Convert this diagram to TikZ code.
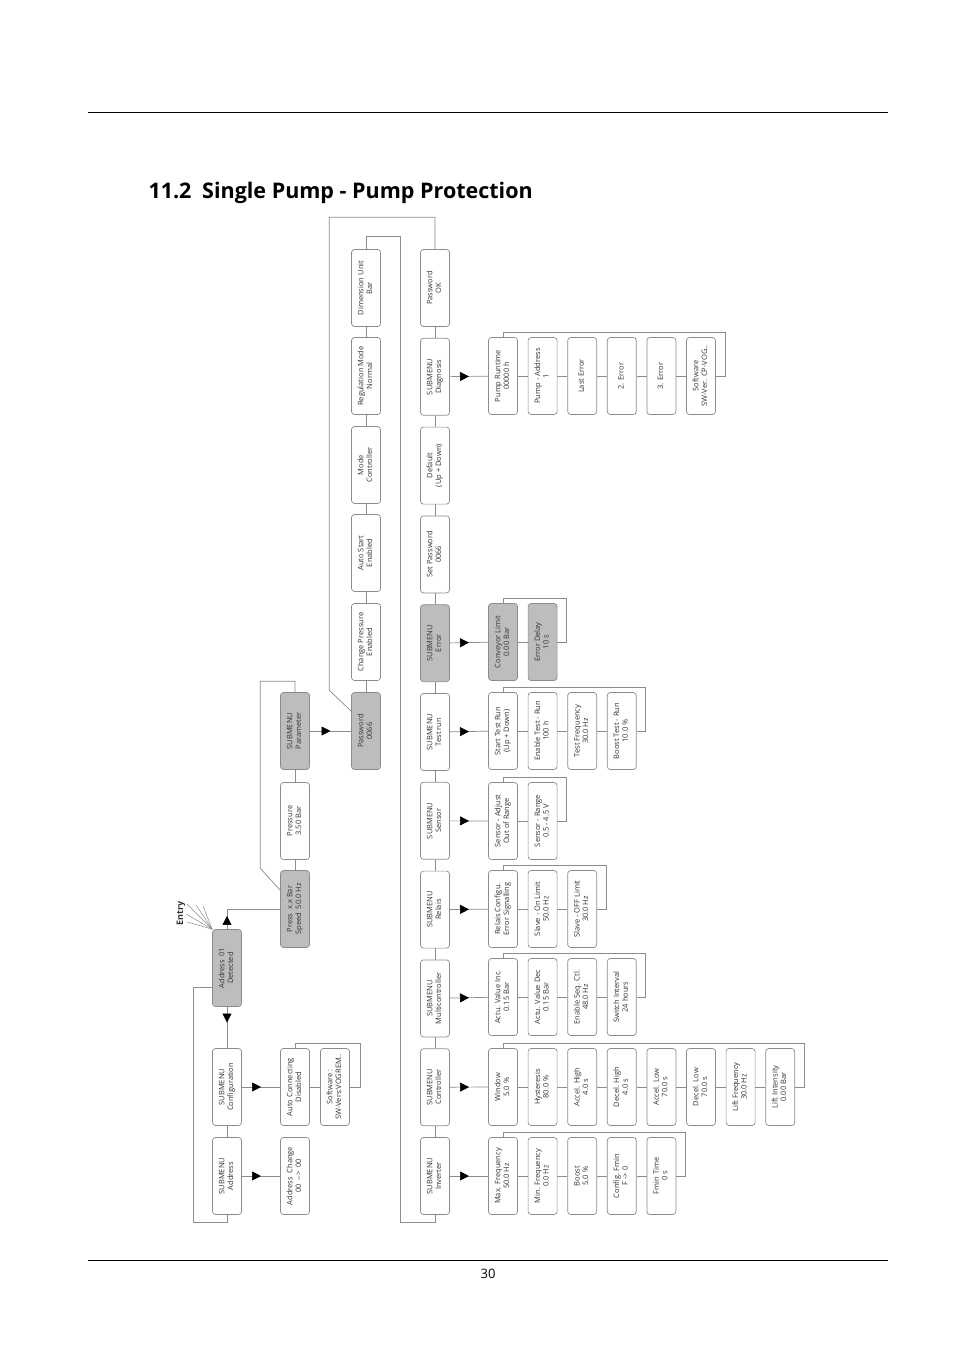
\documentclass[tikz,border=0pt]{standalone}
\usepackage{fontspec}
\setmainfont{Open Sans}
\usetikzlibrary{arrows.meta,decorations.markings}
\definecolor{edge}{HTML}{8C8C8C}
\definecolor{shade}{HTML}{BDBDBD}
\definecolor{ink}{HTML}{333333}
\newcommand\vt[1]{\rotatebox{90}{\begin{tabular}{@{}c@{}}#1\end{tabular}}}
\tikzset{
  menu/.style={draw=edge, fill=white, rounded corners=3pt, line width=0.7pt, minimum width=29pt, minimum height=77pt, inner sep=0pt, text=ink, font=\fontsize{7.5}{8.6}\selectfont},
  sel/.style={menu, fill=shade},
  link/.style={draw=edge, line width=0.7pt},
  pointer/.style={postaction={decorate}, decoration={markings, mark=at position #1 with {\arrow{Triangle[length=9pt,width=9pt,color=black]}}}},
  pointer/.default=0.5,
  rule/.style={draw=black, line width=0.9pt},
}
\begin{document}
\begin{tikzpicture}[x=1pt,y=-1pt]
  \fill[white] (0,0) rectangle (954,1351);
  \useasboundingbox (0,0) rectangle (954,1351);
  \draw[rule] (88,112) -- (888,112);
  \draw[rule] (88,1260) -- (888,1260);
  \node[anchor=west, font=\bfseries\fontsize{21.5}{24}\selectfont] (title) at (145,193) {11.2\hspace{0.5em}Single Pump - Pump Protection};
  \node[font=\fontsize{13}{15}\selectfont] (page) at (488,1274) {30};

  \node[sel] (addrok) at (227,968) {\vt{Address\enspace 01\\Detected}};
  \node[menu] (subcfg) at (227,1087) {\vt{SUBMENU\\Configuration}};
  \node[menu] (subaddr) at (227,1176) {\vt{SUBMENU\\Address}};
  \node[menu] (addrchg) at (295,1176) {\vt{Address\enspace Change\\*00\enspace {-}{-}>\enspace 00}};
  \node[menu] (autocon) at (295,1087) {\vt{Auto Connecting\\Disabled}};
  \node[menu] (swver) at (335,1087) {\vt{Software :\\SW-Vers:VOGREM..}};
  \node[sel] (press) at (295,909) {\vt{Press\enspace x.x Bar\\Speed\enspace 50.0 Hz}};
  \node[menu] (pressure) at (295,821) {\vt{Pressure\\3.50 Bar}};
  \node[sel] (subpar) at (295,731) {\vt{SUBMENU\\Parameter}};
  \node[rotate=90, font=\bfseries\fontsize{9}{10}\selectfont, text=ink] (entry) at (181,913) {Entry};

  \node[sel] (pwd) at (366,731) {\vt{Password\\0066}};
  \node[menu] (chgpress) at (366,642) {\vt{Change Pressure\\Enabled}};
  \node[menu] (autostart) at (366,553) {\vt{Auto Start\\Enabled}};
  \node[menu] (mode) at (366,465) {\vt{Mode\\Controller}};
  \node[menu] (regmode) at (366,376) {\vt{Regulation Mode\\Normal}};
  \node[menu] (dimunit) at (366,288) {\vt{Dimension Unit\\Bar}};

  \foreach \n/\txt/\s [count=\q from 0] in {inv/{SUBMENU\\Inverter}/menu, ctl/{SUBMENU\\Controller}/menu, mctl/{SUBMENU\\Multicontroller}/menu, rel/{SUBMENU\\Relais}/menu, sens/{SUBMENU\\Sensor}/menu, trun/{SUBMENU\\Test run}/menu, err/{SUBMENU\\Error}/sel, setpw/{Set Password\\0066}/menu, deflt/{Default\\(Up + Down)}/menu, diag/{SUBMENU\\Diagnosis}/menu, pwok/{Password\\OK}/menu}
    \node[\s] (\n) at (435,{1176-88.8*\q}) {\vt{\txt}};
  \foreach \a/\b in {inv/ctl, ctl/mctl, mctl/rel, rel/sens, sens/trun, trun/err, err/setpw, setpw/deflt, deflt/diag, diag/pwok}
    \draw[link] (\a) -- (\b);

  \foreach \txt [count=\i] in {{Max. Frequency\\50.0 Hz}, {Min. Frequency\\0.0 Hz}, {Boost\\5.0 \%}, {Config. Fmin\\F -> 0}, {Fmin Time\\0 s}}
    \node[menu] (inv\i) at ({503+39.6*(\i-1)},1176) {\vt{\txt}};
  \foreach \i [remember=\i as \p (initially 1)] in {2,...,5} \draw[link] (inv\p) -- (inv\i);
  \draw[link,pointer] (inv) -- (inv1);
  \draw[link] (inv1.north) -- ++(0,-5) -| ([xshift=9pt]inv5.east) -- (inv5.east);

  \foreach \txt [count=\i] in {{Window\\5.0 \%}, {Hysteresis\\80.0 \%}, {Accel. High\\4.0 s}, {Decel. High\\4.0 s}, {Accel. Low\\70.0 s}, {Decel. Low\\70.0 s}, {Lift Frequency\\30.0 Hz}, {Lift Intensity\\0.00 Bar}}
    \node[menu] (ctl\i) at ({503+39.6*(\i-1)},1087) {\vt{\txt}};
  \foreach \i [remember=\i as \p (initially 1)] in {2,...,8} \draw[link] (ctl\p) -- (ctl\i);
  \draw[link,pointer] (ctl) -- (ctl1);
  \draw[link] (ctl1.north) -- ++(0,-5) -| ([xshift=9pt]ctl8.east) -- (ctl8.east);

  \foreach \txt [count=\i] in {{Actu. Value Inc.\\0.15 Bar}, {Actu. Value Dec\\0.15 Bar}, {Enable Seq. Ctl.\\48.0 Hz}, {Switch Interval\\24 hours}}
    \node[menu] (mctl\i) at ({503+39.6*(\i-1)},997) {\vt{\txt}};
  \foreach \i [remember=\i as \p (initially 1)] in {2,...,4} \draw[link] (mctl\p) -- (mctl\i);
  \draw[link,pointer] (mctl) -- (mctl1);
  \draw[link] (mctl1.north) -- ++(0,-5) -| ([xshift=9pt]mctl4.east) -- (mctl4.east);

  \foreach \txt [count=\i] in {{Relais Configu.\\Error Signalling}, {Slave - On Limit\\50.0 Hz}, {Slave - OFF Limit\\30.0 Hz}}
    \node[menu] (rel\i) at ({503+39.6*(\i-1)},909) {\vt{\txt}};
  \foreach \i [remember=\i as \p (initially 1)] in {2,3} \draw[link] (rel\p) -- (rel\i);
  \draw[link,pointer] (rel) -- (rel1);
  \draw[link] (rel1.north) -- ++(0,-5) -| ([xshift=9pt]rel3.east) -- (rel3.east);

  \foreach \txt [count=\i] in {{Sensor - Adjust\\Out of Range}, {Sensor - Range\\0.5 - 4.5 V}}
    \node[menu] (sens\i) at ({503+39.6*(\i-1)},821) {\vt{\txt}};
  \draw[link] (sens1) -- (sens2);
  \draw[link,pointer] (sens) -- (sens1);
  \draw[link] (sens1.north) -- ++(0,-5) -| ([xshift=9pt]sens2.east) -- (sens2.east);

  \foreach \txt [count=\i] in {{Start Test Run\\(Up + Down)}, {Enable Test - Run\\100 h}, {Test Frequency\\30.0 Hz}, {Boost Test - Run\\10.0 \%}}
    \node[menu] (trun\i) at ({503+39.6*(\i-1)},731) {\vt{\txt}};
  \foreach \i [remember=\i as \p (initially 1)] in {2,...,4} \draw[link] (trun\p) -- (trun\i);
  \draw[link,pointer] (trun) -- (trun1);
  \draw[link] (trun1.north) -- ++(0,-5) -| ([xshift=9pt]trun4.east) -- (trun4.east);

  \foreach \txt [count=\i] in {{Conveyor Limit\\0.00 Bar}, {Error Delay\\10 s}}
    \node[sel] (err\i) at ({503+39.6*(\i-1)},642) {\vt{\txt}};
  \draw[link] (err1) -- (err2);
  \draw[link,pointer] (err) -- (err1);
  \draw[link] (err1.north) -- ++(0,-5) -| ([xshift=9pt]err2.east) -- (err2.east);

  \foreach \txt [count=\i] in {{Pump Runtime\\00000 h}, {Pump - Address\\1}, {Last Error}, {2. Error}, {3. Error}, {Software\\SW-Ver. CP-VOG..}}
    \node[menu] (diag\i) at ({503+39.6*(\i-1)},376) {\vt{\txt}};
  \foreach \i [remember=\i as \p (initially 1)] in {2,...,6} \draw[link] (diag\p) -- (diag\i);
  \draw[link,pointer] (diag) -- (diag1);
  \draw[link] (diag1.north) -- ++(0,-5) -| ([xshift=9pt]diag6.east) -- (diag6.east);

  \draw[link,pointer=0.38] (addrok) -- (subcfg);
  \draw[link,pointer=0.18] (addrok.north) |- (press.west);
  \draw[link] (subcfg) -- (subaddr);
  \draw[link,pointer] (subaddr) -- (addrchg);
  \draw[link,pointer] (subcfg) -- (autocon);
  \draw[link] (autocon) -- (swver);
  \draw[link] (autocon.north) -- ++(0,-5) -| ([xshift=10pt]swver.east) -- (swver.east);
  \draw[link] (subaddr.south) -- ++(0,7) -| ([xshift=-19pt,yshift=-19pt]addrok.west) -- ([yshift=-19pt]addrok.west);
  \foreach \p in {(187,904),(196,905),(203,906),(186,914),(187,922)}
    \draw[link,line width=0.5pt] (addrok.north west) -- \p;

  \draw[link] (press) -- (pressure);
  \draw[link] (pressure) -- (subpar);
  \draw[link] (subpar.north) -- ++(0,-11) -| ([xshift=-20pt,yshift=2pt]press.north west) -- ([yshift=-20pt]press.north west);
  \draw[link,pointer] (subpar) -- (pwd);
  \foreach \a/\b in {pwd/chgpress, chgpress/autostart, autostart/mode, mode/regmode, regmode/dimunit}
    \draw[link] (\a) -- (\b);
  \draw[link] (dimunit.north) -- ++(0,-13) -| ([xshift=-35pt,yshift=-7pt]inv.south) -| (inv.south);
  \draw[link] (pwok.north) -- ++(0,-32) -| ([xshift=-22pt,yshift=2pt]pwd.north west) -- ([yshift=-19pt]pwd.north west);
\end{tikzpicture}
\end{document}
